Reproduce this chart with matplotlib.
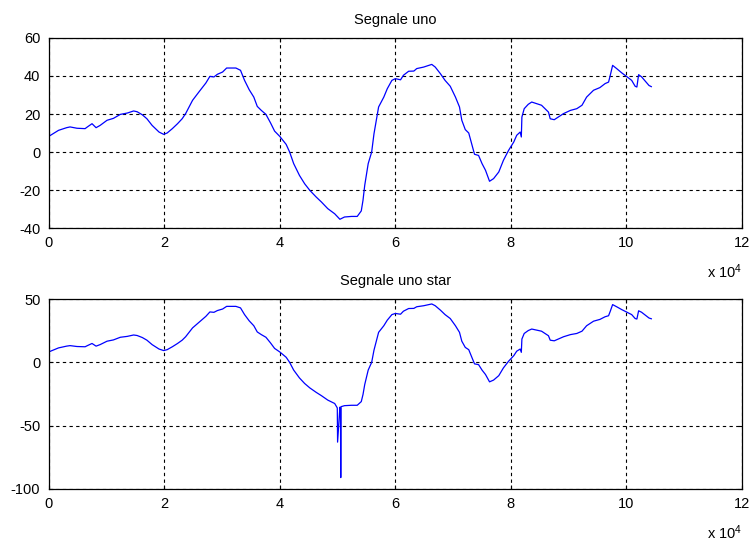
import numpy as np
import matplotlib
matplotlib.use('Agg')
import matplotlib.pyplot as plt

plt.rcParams['font.family'] = ['Liberation Sans', 'DejaVu Sans']
plt.rcParams['mathtext.default'] = 'regular'
plt.rcParams['axes.unicode_minus'] = False

# Sample index and signal value of "Segnale uno"
x_uno = [0, 1700, 3100, 3700, 4900, 6300, 6700, 7500, 8200, 8900,
         10100, 11200, 12400, 13600, 14700, 15300, 16200, 17000, 17900, 19100,
         19900, 20500, 21400, 22300, 23100, 23700, 24900, 26000, 27200, 27900,
         28600, 29200, 30100, 30800, 31500, 32400, 33200, 33900, 34700, 35500,
         36100, 36800, 37600, 38400, 39100, 40000, 41100, 41700, 42400, 43400,
         44300, 45200, 46300, 47200, 48300, 49500, 50400, 51200, 52400, 53400,
         54100, 54400, 54700, 55300, 55900, 56300, 57100, 58000, 58600, 59400,
         60000, 60900, 61400, 62300, 63200, 63700, 64900, 65800, 66300, 66900,
         67800, 68600, 69500, 70400, 71100, 71500, 72100, 72700, 73200, 73700,
         74400, 75000, 75600, 76300, 77000, 77900, 78700, 79600, 80500, 81000,
         81600, 81800, 81900, 82300, 83000, 83600, 84500, 85300, 85900, 86500,
         86800, 87500, 88200, 89100, 90300, 91400, 92300, 93100, 94300, 95400,
         96300, 96900, 97200, 97600, 98300, 99200, 100000, 100900, 101500, 101800,
         102100, 102600, 103200, 103900, 104300]
y_uno = [8.2, 11.4, 12.8, 13.2, 12.5, 12.3, 13.2, 14.9, 12.8, 14.0,
         16.7, 17.7, 19.8, 20.5, 21.6, 21.2, 19.6, 17.5, 14.0, 10.5,
         9.3, 10.0, 12.3, 14.9, 17.5, 20.2, 27.2, 31.6, 36.3, 39.8,
         39.5, 40.9, 42.1, 44.2, 44.2, 44.2, 43.0, 37.7, 32.8, 28.9,
         24.0, 21.9, 19.8, 15.3, 11.0, 8.2, 4.0, 0.0, -6.1, -12.3,
         -16.7, -20.2, -23.7, -26.3, -29.8, -32.5, -35.4, -34.2, -33.9, -33.9,
         -31.0, -25.4, -17.5, -6.1, 0.0, 9.6, 23.7, 28.9, 33.3, 37.7,
         38.6, 38.0, 40.4, 42.5, 42.6, 43.9, 44.7, 45.6, 46.1, 44.7,
         41.2, 37.7, 34.6, 28.9, 23.7, 16.7, 11.8, 10.0, 4.4, -1.2,
         -1.8, -6.1, -9.6, -15.4, -14.0, -10.5, -4.4, 0.9, 5.3, 8.8,
         10.5, 7.9, 18.4, 22.8, 25.1, 26.3, 25.4, 24.6, 22.8, 21.0,
         17.5, 17.0, 18.4, 20.2, 21.9, 22.8, 24.6, 28.9, 32.5, 33.9,
         36.0, 36.8, 40.4, 45.6, 43.9, 41.6, 39.8, 37.7, 34.6, 34.2,
         40.7, 39.6, 37.5, 35.0, 34.4]

# "Segnale uno star": same signal with a glitch near sample 50000
x_glitch = [49950, 50000, 50500, 50550, 50600]
y_glitch = [-36.0, -63.0, -36.0, -91.0, -35.0]

x_star = np.concatenate([x_uno, x_glitch])
y_star = np.concatenate([y_uno, y_glitch])
order = np.argsort(x_star, kind='stable')
x_star, y_star = x_star[order], y_star[order]

x_ticks = [0, 20000, 40000, 60000, 80000, 100000, 120000]
x_ticklabels = ['0', '2', '4', '6', '8', '10', '12']

panels = [
    ('Segnale uno', x_uno, y_uno, [-40, -20, 0, 20, 40, 60]),
    ('Segnale uno star', x_star, y_star, [-100, -50, 0, 50]),
]

fig = plt.figure(figsize=(7.49, 5.42), dpi=100)
positions = [[0.065, 0.5793, 0.9257, 0.3506],
             [0.065, 0.0978, 0.9257, 0.3505]]

for pos, (title, xs, ys, yticks) in zip(positions, panels):
    ax = fig.add_axes(pos)
    ax.plot(xs, ys, color='#0000ff', linewidth=0.9)
    ax.set_xlim(0, 120000)
    ax.set_ylim(yticks[0], yticks[-1])
    ax.set_xticks(x_ticks)
    ax.set_xticklabels(x_ticklabels)
    ax.set_yticks(yticks)
    ax.grid(True, color='black', linestyle=(0, (3, 3)), linewidth=0.8)
    ax.tick_params(direction='in', length=3, width=0.8, labelsize=10.5,
                   pad=6, top=True, right=True)
    for side in ax.spines.values():
        side.set_linewidth(0.9)
    ax.set_title(title, fontsize=10.5, pad=10)
    ax.text(1.0, -0.265, 'x 10$^{4}$', transform=ax.transAxes,
            ha='right', va='baseline', fontsize=10.5)

fig.savefig('out.png', dpi=100)
